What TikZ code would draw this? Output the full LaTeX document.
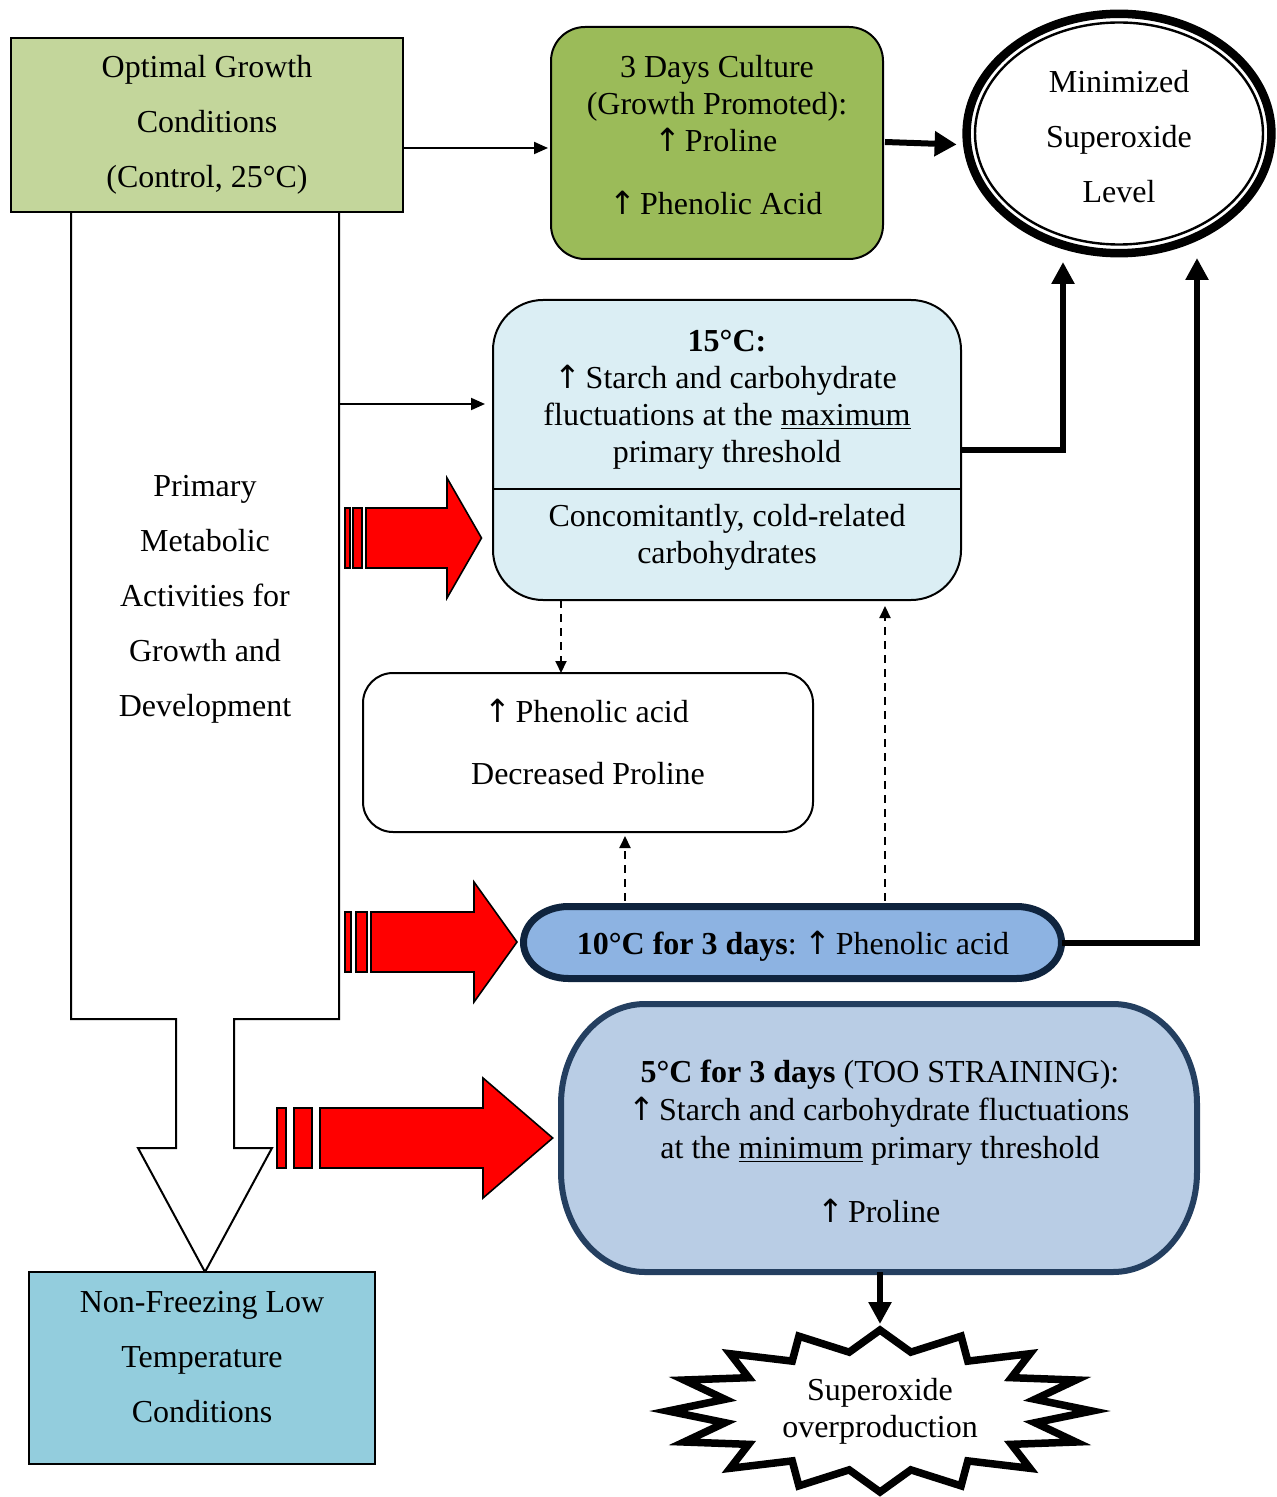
\documentclass[tikz,border=0pt]{standalone}
\usepackage{fontspec}
\setmainfont{Liberation Serif}
\newfontfamily\arrowfont{DejaVu Sans}
\newcommand\uparr{{\arrowfont\kern-0.08em↑\kern-0.12em}}
\usetikzlibrary{arrows.meta,shapes.geometric,calc}
\definecolor{optfill}{HTML}{C3D69B}
\definecolor{daysfill}{HTML}{9BBB59}
\definecolor{cfifteen}{HTML}{DBEEF4}
\definecolor{cten}{HTML}{8DB3E2}
\definecolor{ctenline}{HTML}{0F243E}
\definecolor{cfive}{HTML}{B9CDE5}
\definecolor{cfiveline}{HTML}{243F60}
\definecolor{nffill}{HTML}{93CDDD}
\definecolor{redfill}{HTML}{FF0000}
\newcommand\ellbox[7]{%
  \draw[#1] ([xshift=#6]#2,#3) -- ([xshift=-#6]#4,#3)
    arc[start angle=90,end angle=0,x radius=#6,y radius=#7]
    -- ([yshift=#7]#4,#5)
    arc[start angle=0,end angle=-90,x radius=#6,y radius=#7]
    -- ([xshift=#6]#2,#5)
    arc[start angle=-90,end angle=-180,x radius=#6,y radius=#7]
    -- ([yshift=-#7]#2,#3)
    arc[start angle=180,end angle=90,x radius=#6,y radius=#7] -- cycle;}
\begin{document}
\begin{tikzpicture}[x=0.5pt,y=-0.5pt,
  txt/.style={align=center,font=\fontsize{16}{18.5}\selectfont,inner sep=0pt},
  ltxt/.style={align=center,font=\fontsize{16}{27.5}\selectfont,inner sep=0pt},
  box/.style={draw,line width=1pt,inner sep=0pt,outer sep=0pt},
  ghost/.style={inner sep=0pt,outer sep=0pt},
  thinarr/.style={line width=1pt,-{Triangle[length=7pt,width=6pt]}},
  thickarr/.style={line width=3pt,-{Triangle[length=11pt,width=11pt]}},
  dasharr/.style={line width=1pt,dash pattern=on 4pt off 3pt,-{Triangle[length=6pt,width=5.5pt]}},
  redblk/.style={draw=black,line width=0.8pt,fill=redfill,line join=miter}]
\useasboundingbox (0,0) rectangle (1277,1497);

% big white arrow
\draw[line width=1pt,fill=white,line join=miter] (71,212) -- (71,1019) -- (176,1019) -- (176,1148) -- (138,1148) -- (205,1272) -- (272,1148) -- (234,1148) -- (234,1019) -- (339,1019) -- (339,212);
\coordinate (shaftR) at (339,404);
\node[ltxt] (prim) at (205,599) {Primary\\Metabolic\\Activities for\\Growth and\\Development};

% optimal growth box
\node[box,fill=optfill,minimum width=196pt,minimum height=87pt,ltxt] (opt) at (207,125) {Optimal Growth\\Conditions\\(Control, 25°C)};

% 3 days box
\node[box,fill=daysfill,rounded corners=17pt,minimum width=166pt,minimum height=116pt] (days) at (717,143) {};
\node[txt] (daystxt) at (717,135) {3 Days Culture\\(Growth Promoted):\\\uparr\ Proline\\[13pt]\uparr\ Phenolic Acid};

% ellipse
\node[ellipse,draw,line width=4.25pt,inner sep=0pt,outer sep=0pt,minimum width=152.4pt,minimum height=119.7pt] (ell) at (1119,133.5) {};
\draw[line width=1.2pt] (ell.center) ellipse[x radius=72pt,y radius=55.5pt];
\node[ltxt] (elltxt) at (1119,137) {Minimized\\Superoxide\\Level};
\coordinate (ellinA) at (1063,262);
\coordinate (ellinB) at (1197,258);

% 15 C box
\node[box,fill=cfifteen,rounded corners=25pt,minimum width=234pt,minimum height=150pt] (n15) at (727,450) {};
\draw[line width=1pt] ([yshift=-19.5pt]n15.west) -- ([yshift=-19.5pt]n15.east);
\node[txt] (t15a) at (727,400) {\textbf{15°C:}\\\uparr\ Starch and carbohydrate\\fluctuations at the \underline{maximum}\\primary threshold};
\node[txt] (t15b) at (727,537) {Concomitantly, cold-related\\carbohydrates};

% phenolic box
\node[box,fill=white,rounded corners=15pt,minimum width=225pt,minimum height=79.5pt] (phen) at (588,752.5) {};
\node[txt] (phentxt) at (588,742) {\uparr\ Phenolic acid\\[12.5pt]Decreased Proline};

% 10 C
\node[ghost,minimum width=269pt,minimum height=36pt] (n10) at (792.5,942.5) {};
\ellbox{draw=ctenline,fill=cten,line width=3.5pt}{523.5}{906.5}{1061.5}{978.5}{22.5pt}{18pt}
\node[txt] (t10) at (793,946) {\textbf{10°C for 3 days}: \uparr\ Phenolic acid};

% 5 C
\node[ghost,minimum width=318pt,minimum height=134pt] (n5) at (879,1138) {};
\ellbox{draw=cfiveline,fill=cfive,line width=3pt}{561}{1004}{1197}{1272}{42pt}{50pt}
\node[align=center,font=\fontsize{16}{19}\selectfont,inner sep=0pt] (t5) at (880,1141) {\textbf{5°C for 3 days} (TOO STRAINING):\\\uparr\ Starch and carbohydrate fluctuations\\at the \underline{minimum} primary threshold\\[13pt]\uparr\ Proline};

% star
\coordinate (starc) at (880,1411);
\begin{scope}[shift={(starc)}]
\draw[line width=3.75pt,line join=miter,miter limit=10,fill=white]
  plot[samples at={0,...,31}] ({cos(90+\x*11.25)*(mod(\x,2)==0 ? 212 : 158)}, {sin(90+\x*11.25)*(mod(\x,2)==0 ? 81 : 60)}) -- cycle;
\end{scope}
\node[txt] (star) at (starc) {Superoxide\\overproduction};
\coordinate (startop) at (880,1324);

% non-freezing box
\node[box,fill=nffill,minimum width=173pt,minimum height=96pt] (nf) at (202,1368) {};
\node[ltxt] (nftxt) at (202,1357) {Non-Freezing Low\\Temperature\\Conditions};

% red block arrows
\draw[redblk] (344.7,508) rectangle (350,568);
\draw[redblk] (353,508) rectangle (362,568);
\draw[redblk] (366,508) -- (447,508) -- (447,478) -- (481.5,538) -- (447,598) -- (447,568) -- (366,568) -- cycle;
\draw[redblk] (344.7,912) rectangle (350.7,972);
\draw[redblk] (355.7,912) rectangle (366.7,972);
\draw[redblk] (371,912) -- (474,912) -- (474,882) -- (517,942) -- (474,1002) -- (474,972) -- (371,972) -- cycle;
\draw[redblk] (276.7,1108) rectangle (286,1168);
\draw[redblk] (294,1108) rectangle (311.7,1168);
\draw[redblk] (320,1108) -- (483,1108) -- (483,1078) -- (552.7,1138) -- (483,1198) -- (483,1168) -- (320,1168) -- cycle;

% connectors
\draw[thinarr] ([yshift=-11.5pt]opt.east) -- ([yshift=-2.5pt,xshift=-1.5pt]days.west);
\draw[line width=3pt,-{Triangle[length=11pt,width=12pt]}] ([xshift=1pt,yshift=0.5pt]days.east) -- ([xshift=-5pt,yshift=-5.5pt]ell.west);
\draw[thinarr] (shaftR) -- ([xshift=-4pt]n15.west |- shaftR);
\draw[thickarr,line join=miter] (n15.east) -| (ellinA);
\draw[thickarr,line join=miter] (n10.east) -| (ellinB);
\draw[dasharr] ([xshift=-83pt]n15.south) -- ([xshift=-13.5pt]phen.north);
\draw[dasharr] ([xshift=-83.75pt,yshift=3pt]n10.north) -- ([xshift=18.5pt,yshift=-2pt]phen.south);
\draw[dasharr] ([xshift=46.25pt,yshift=3pt]n10.north) -- ([xshift=79pt,yshift=-3pt]n15.south);
\draw[thickarr] ([xshift=0.5pt]n5.south) -- (startop);
\end{tikzpicture}
\end{document}
